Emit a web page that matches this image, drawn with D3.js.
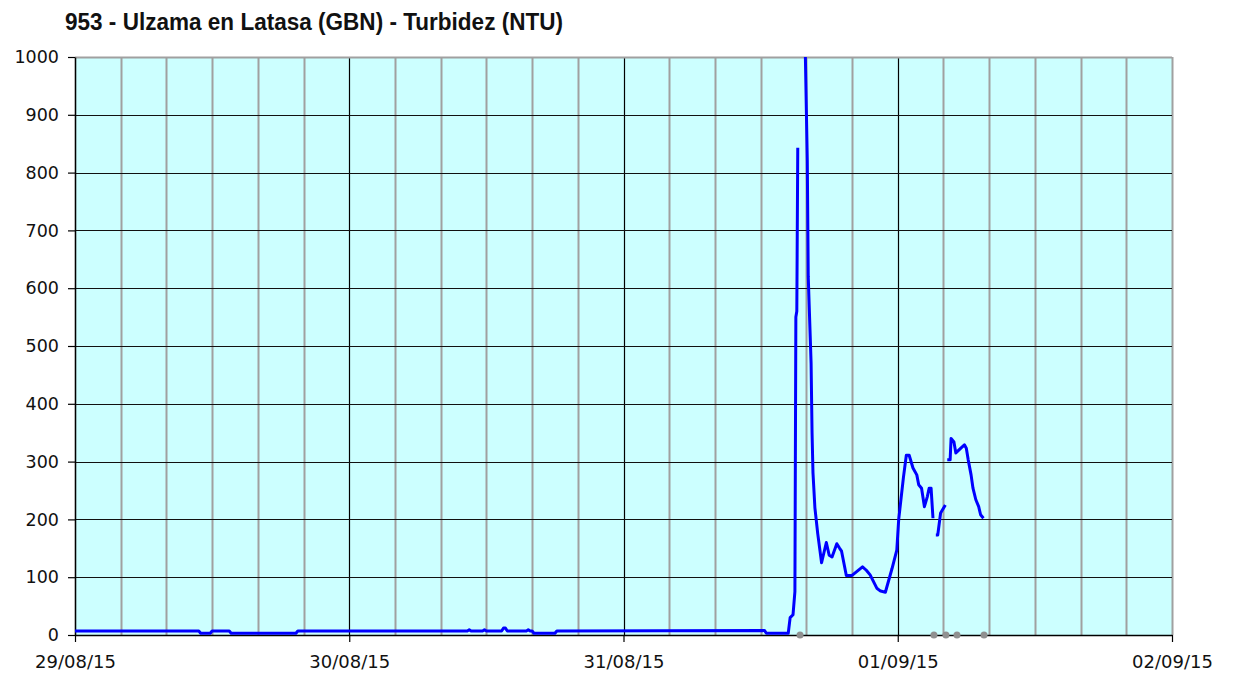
<!DOCTYPE html>
<html>
<head>
<meta charset="utf-8">
<script src="https://cdn.jsdelivr.net/npm/d3@7"></script>
<style>
  body { margin: 0; background: #fff; }
  text { fill: #111; }
</style>
</head>
<body>
<svg id="chart" width="1233" height="675"></svg>
<script>
// 953 - Ulzama en Latasa, turbidity readings (null = gap in the record)
const title = '953 - Ulzama en Latasa (GBN) - Turbidez (NTU)';

const times = [
  '2015-08-29 00:00', '2015-08-29 10:50', '2015-08-29 11:00', '2015-08-29 11:50', '2015-08-29 12:00',
  '2015-08-29 13:30', '2015-08-29 13:40', '2015-08-29 19:20', '2015-08-29 19:30',
  '2015-08-30 10:20', '2015-08-30 10:30', '2015-08-30 10:40', '2015-08-30 11:40', '2015-08-30 11:50',
  '2015-08-30 12:00', '2015-08-30 13:20', '2015-08-30 13:30', '2015-08-30 13:40', '2015-08-30 13:50',
  '2015-08-30 15:30', '2015-08-30 15:40', '2015-08-30 15:50', '2015-08-30 16:00', '2015-08-30 16:10',
  '2015-08-30 18:00', '2015-08-30 18:10',
  '2015-08-31 12:20', '2015-08-31 12:30', '2015-08-31 14:25', '2015-08-31 14:35', '2015-08-31 14:50',
  '2015-08-31 15:00', '2015-08-31 15:05', '2015-08-31 15:10', '2015-08-31 15:15', '2015-08-31 15:25',
  '2015-08-31 15:55', '2015-08-31 16:05', '2015-08-31 16:10', '2015-08-31 16:25', '2015-08-31 16:30',
  '2015-08-31 16:35', '2015-08-31 16:45', '2015-08-31 17:00', '2015-08-31 17:20', '2015-08-31 17:45',
  '2015-08-31 18:00', '2015-08-31 18:15', '2015-08-31 18:40', '2015-08-31 18:55', '2015-08-31 19:05',
  '2015-08-31 19:30', '2015-08-31 20:00', '2015-08-31 20:55', '2015-08-31 21:15', '2015-08-31 21:35',
  '2015-08-31 22:10', '2015-08-31 22:30', '2015-08-31 22:55', '2015-08-31 23:30', '2015-08-31 23:55',
  '2015-09-01 00:05', '2015-09-01 00:30', '2015-09-01 00:45', '2015-09-01 01:00', '2015-09-01 01:20',
  '2015-09-01 01:40', '2015-09-01 01:50', '2015-09-01 02:05', '2015-09-01 02:20', '2015-09-01 02:35',
  '2015-09-01 02:45', '2015-09-01 02:55', '2015-09-01 03:05', '2015-09-01 03:10', '2015-09-01 03:20',
  '2015-09-01 03:30', '2015-09-01 03:45', '2015-09-01 04:10', '2015-09-01 04:13', '2015-09-01 04:20',
  '2015-09-01 04:35', '2015-09-01 04:40', '2015-09-01 04:55', '2015-09-01 05:05', '2015-09-01 05:30',
  '2015-09-01 05:50', '2015-09-01 06:00', '2015-09-01 06:10', '2015-09-01 06:25', '2015-09-01 06:35',
  '2015-09-01 06:50', '2015-09-01 07:05', '2015-09-01 07:15', '2015-09-01 07:30'
];
const turbidity = [
  7, 7, 3, 3, 7,
  7, 3, 3, 7,
  7, 9, 7, 7, 9,
  7, 7, 12, 12, 7,
  7, 9, 7, 7, 3,
  3, 7,
  8, 3, 3, 30, 35,
  75, 550, 560, 843, null,
  1000, 820, 620, 470, 350,
  280, 220, 175, 125, 160,
  138, 135, 158, 150, 145,
  103, 103, 118, 112, 104,
  81, 76, 74, 115, 147,
  200, 273, 311, 311, 289,
  277, 260, 254, 222, 239,
  254, 254, 202, null, 173,
  173, 211, 225, null, 303,
  303, 340, 334, 315, 323,
  329, 323, 303, 277, 254,
  234, 222, 208, 202
];
// grey markers on the baseline: readings flagged as missing
const missingTimes = ['2015-08-31 15:27', '2015-09-01 03:10', '2015-09-01 04:13', '2015-09-01 05:11', '2015-09-01 07:33'];

const dayLabels = ['29/08/15', '30/08/15', '31/08/15', '01/09/15', '02/09/15'];
const yTicks = [0, 100, 200, 300, 400, 500, 600, 700, 800, 900, 1000];

const parse = d3.timeParse('%Y-%m-%d %H:%M');
const series = times.map((t, i) => ({ t: parse(t), v: turbidity[i] }));

const margin = { top: 57, right: 61, bottom: 40, left: 75 };
const W = 1233, H = 675;
const w = W - margin.left - margin.right;
const h = H - margin.top - margin.bottom;

const svg = d3.select('#chart');

svg.append('text')
  .attr('x', 65).attr('y', 30)
  .attr('textLength', 498).attr('lengthAdjust', 'spacingAndGlyphs')
  .style('font-family', '"Liberation Sans Narrow", "Liberation Sans", Arial, sans-serif')
  .style('font-weight', 'bold')
  .style('font-size', '23px')
  .text(title);

const g = svg.append('g').attr('transform', `translate(${margin.left},${margin.top})`);

const x = d3.scaleTime()
  .domain([parse('2015-08-29 00:00'), parse('2015-09-02 00:00')])
  .range([0, w]);
const y = d3.scaleLinear().domain([0, 1000]).range([h, 0]);

g.append('rect').attr('width', w).attr('height', h).attr('fill', '#ccffff');

// vertical grid every 4 hours, black at midnight
const hourTicks = d3.timeHour.every(4).range(x.domain()[0], d3.timeHour.offset(x.domain()[1], 1));
g.append('g').selectAll('line')
  .data(hourTicks)
  .join('line')
  .attr('x1', d => Math.round(x(d)) + 0.5).attr('x2', d => Math.round(x(d)) + 0.5)
  .attr('y1', 0).attr('y2', h)
  .attr('stroke', d => (d.getHours() === 0 && +d !== +x.domain()[0] && +d !== +x.domain()[1]) ? '#000' : '#a0a0a0')
  .attr('stroke-width', d => (d.getHours() === 0 && +d !== +x.domain()[1]) ? 1.2 : 2);

// horizontal grid
g.append('g').selectAll('line')
  .data(yTicks.filter(v => v > 0))
  .join('line')
  .attr('x1', 0).attr('x2', w)
  .attr('y1', d => Math.round(y(d)) + 0.5).attr('y2', d => Math.round(y(d)) + 0.5)
  .attr('stroke', d => d === 1000 ? '#a0a0a0' : '#111')
  .attr('stroke-width', d => d === 1000 ? 2 : 1.2);

// y axis
const yAxis = g.append('g')
  .call(d3.axisLeft(y).tickValues(yTicks).tickSize(7).tickPadding(9).tickSizeOuter(0)
    .tickFormat(d3.format('d')));
yAxis.select('.domain').attr('stroke', '#000').attr('stroke-width', 1.5);
yAxis.selectAll('.tick line').attr('stroke', '#000').attr('stroke-width', 1.2);
yAxis.selectAll('text')
  .style('font-family', '"DejaVu Sans", Verdana, sans-serif')
  .style('font-size', '17.5px').attr('fill', '#222');

// x axis
const dayTicks = d3.timeDay.range(x.domain()[0], d3.timeDay.offset(x.domain()[1], 1));
const xAxis = g.append('g').attr('transform', `translate(0,${h})`)
  .call(d3.axisBottom(x).tickValues(dayTicks).tickSize(7).tickPadding(13).tickSizeOuter(0)
    .tickFormat((d, i) => dayLabels[i]));
xAxis.select('.domain').attr('stroke', '#000').attr('stroke-width', 1.5);
xAxis.selectAll('.tick line').attr('stroke', '#000').attr('stroke-width', 1.2);
xAxis.selectAll('text')
  .style('font-family', '"DejaVu Sans", Verdana, sans-serif')
  .style('font-size', '18px').attr('fill', '#222');

// turbidity line
const line = d3.line()
  .defined(d => d.v != null)
  .x(d => x(d.t))
  .y(d => y(d.v))
  .curve(d3.curveLinear);

g.append('path')
  .datum(series)
  .attr('fill', 'none')
  .attr('stroke', '#0000ff')
  .attr('stroke-width', 3)
  .attr('stroke-linejoin', 'round')
  .attr('d', line);

// missing-data markers
g.append('g').selectAll('circle')
  .data(missingTimes.map(parse))
  .join('circle')
  .attr('cx', d => x(d)).attr('cy', h)
  .attr('r', 3.5)
  .attr('fill', '#909090');
</script>
</body>
</html>
